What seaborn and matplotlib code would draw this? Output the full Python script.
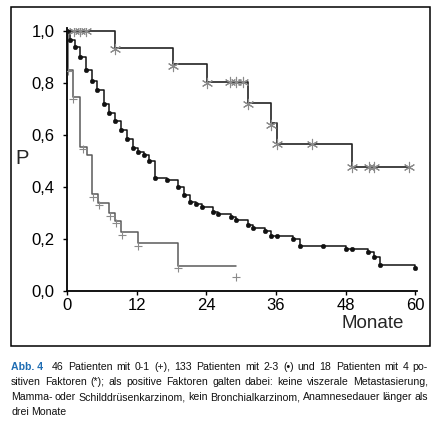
import matplotlib
matplotlib.use("Agg")
import matplotlib.pyplot as plt
from matplotlib.patches import Rectangle
import seaborn as sns

# Kaplan-Meier curves (months, survival probability)
plus_t = [0, 0.2, 1.0, 2.3, 3.4, 4.3, 5.3, 7.3, 8.3, 9.3, 12.2, 19.1, 29.1]
plus_p = [1.0, 0.85, 0.745, 0.555, 0.525, 0.375, 0.34, 0.30, 0.27, 0.227, 0.183, 0.096, 0.096]
plus_mark_t = [0.2, 1.1, 2.8, 4.5, 5.5, 7.4, 8.4, 9.4, 12.3, 19.2, 29.2]
plus_mark_p = [0.845, 0.74, 0.545, 0.362, 0.33, 0.29, 0.26, 0.215, 0.172, 0.09, 0.055]

dot_t = [0, 0.5, 1.4, 2.3, 3.3, 4.25, 5.2, 6.3, 7.3, 8.3, 9.25, 10.3, 11.3, 12.3,
         13.2, 14.2, 15.2, 17.2, 19.2, 20.2, 21.2, 22.2, 23.2, 25.2, 26.1, 28.2,
         29.2, 31.2, 32.1, 34.1, 35.1, 36.2, 39.0, 40.1, 44.1, 48.0, 49.1, 51.9,
         52.9, 54.0, 60.0]
dot_p = [1.0, 0.965, 0.94, 0.90, 0.849, 0.808, 0.773, 0.72, 0.686, 0.654, 0.619,
         0.583, 0.549, 0.533, 0.523, 0.501, 0.436, 0.427, 0.401, 0.369, 0.342,
         0.333, 0.322, 0.303, 0.295, 0.283, 0.273, 0.254, 0.241, 0.232, 0.212,
         0.212, 0.201, 0.174, 0.174, 0.160, 0.160, 0.149, 0.132, 0.101, 0.088]

star_t = [0, 8.3, 18.2, 24.1, 31.2, 35.1, 36.2, 49.1, 59.0]
star_p = [1.0, 0.936, 0.872, 0.805, 0.722, 0.645, 0.565, 0.476, 0.476]
star_mark_t = [1.2, 2.3, 3.3, 8.3, 18.2, 24.2, 28.1, 29.1, 30.4, 31.2, 35.1, 36.2,
               42.2, 49.1, 52.1, 52.9, 59.0]
star_mark_p = [1.0, 1.0, 1.0, 0.93, 0.865, 0.80, 0.805, 0.805, 0.805, 0.72, 0.64,
               0.565, 0.565, 0.476, 0.476, 0.476, 0.476]

x_ticks = [0, 12, 24, 36, 48, 60]
y_ticks = [0.0, 0.2, 0.4, 0.6, 0.8, 1.0]
y_ticklabels = ["0,0", "0,2", "0,4", "0,6", "0,8", "1,0"]

caption_head = "Abb. 4"
caption_lines = [
    "46 Patienten mit 0-1 (+), 133 Patienten mit 2-3 (\u2022) und 18 Patienten mit 4 po-",
    "sitiven Faktoren (*); als positive Faktoren galten dabei: keine viszerale Metastasierung,",
    "Mamma- oder Schilddrüsenkarzinom, kein Bronchialkarzinom, Anamnesedauer länger als",
    "drei Monate",
]

sns.set_style("ticks")
plt.rcParams["font.family"] = ["Liberation Sans", "DejaVu Sans"]

W, H = 437, 433
fig = plt.figure(figsize=(W / 100, H / 100), dpi=100)
ax = fig.add_axes([67 / W, 1 - 291 / H, 350 / W, 263 / H])

# step curves
sns.lineplot(x=plus_t, y=plus_p, drawstyle="steps-post", estimator=None, sort=False,
             color="#5a5a5a", linewidth=1.1, ax=ax)
sns.lineplot(x=star_t, y=star_p, drawstyle="steps-post", estimator=None, sort=False,
             color="#222222", linewidth=1.2, ax=ax)
sns.lineplot(x=dot_t, y=dot_p, drawstyle="steps-post", estimator=None, sort=False,
             color="#111111", linewidth=1.1, ax=ax)

# markers
sns.scatterplot(x=plus_mark_t, y=plus_mark_p, marker="+", s=35, color="#8a8a8a",
                linewidth=0.8, ax=ax, zorder=3)
sns.scatterplot(x=star_mark_t, y=star_mark_p, marker=(6, 2, 0), s=55, color="#8a8a8a",
                linewidth=0.8, ax=ax, zorder=3)
sns.scatterplot(x=dot_t, y=dot_p, marker="o", s=11, color="#111111",
                edgecolor="#111111", linewidth=0.3, ax=ax, zorder=4)

ax.set_xlim(0, 60.3)
ax.set_ylim(0, 1.012)
ax.set_xticks(x_ticks)
ax.set_yticks(y_ticks)
ax.set_yticklabels(y_ticklabels)
ax.tick_params(axis="both", labelsize=12, length=3, width=1, color="black",
               labelcolor="black", pad=2)
ax.tick_params(axis="y", pad=6)
ax.set_xlabel("")
ax.set_ylabel("")
sns.despine(ax=ax)
for side in ["left", "bottom"]:
    ax.spines[side].set_linewidth(1.3)
    ax.spines[side].set_color("black")

fig.text(22 / W, 1 - 159 / H, "P", fontsize=14.5, ha="center", va="center")
fig.text(373 / W, 1 - 324 / H, "Monate", fontsize=13.5, ha="center", va="center")

# outer frame around the chart
fig.patches.append(Rectangle((11 / W, 1 - 346 / H), 419 / W, 339 / H,
                             transform=fig.transFigure, fill=False,
                             edgecolor="black", linewidth=1.1))

# caption, justified word by word, largest size that still fits
renderer = fig.canvas.get_renderer()
line_y = [367, 382, 397, 412]
x_left, x_right, first_indent = 11, 428, 52
cap_family = ["Liberation Sans", "DejaVu Sans"]


def measure(words, size):
    widths = []
    for w in words:
        t = fig.text(0, 0, w, family=cap_family, fontsize=size)
        widths.append(t.get_window_extent(renderer).width)
        t.remove()
    return widths


size = 10.0
while size > 5.5:
    ok = True
    for i, line in enumerate(caption_lines[:-1]):
        words = line.split(" ")
        x0 = first_indent if i == 0 else x_left
        if sum(measure(words, size)) + 2.2 * (len(words) - 1) > x_right - x0:
            ok = False
            break
    if ok:
        break
    size -= 0.1

fig.text(x_left / W, 1 - line_y[0] / H, caption_head, family=cap_family,
         fontsize=size, fontweight="bold", va="center", ha="left", color="#1f6db3")

for i, line in enumerate(caption_lines):
    words = line.split(" ")
    x0 = first_indent if i == 0 else x_left
    widths = measure(words, size)
    if i < len(caption_lines) - 1:
        gap = (x_right - x0 - sum(widths)) / (len(words) - 1)
    else:
        gap = 2.5
    x = x0
    for w, wd in zip(words, widths):
        fig.text(x / W, 1 - line_y[i] / H, w, family=cap_family, fontsize=size,
                 va="center", ha="left", color="#111111")
        x += wd + gap

fig.savefig("out.png", dpi=100)
